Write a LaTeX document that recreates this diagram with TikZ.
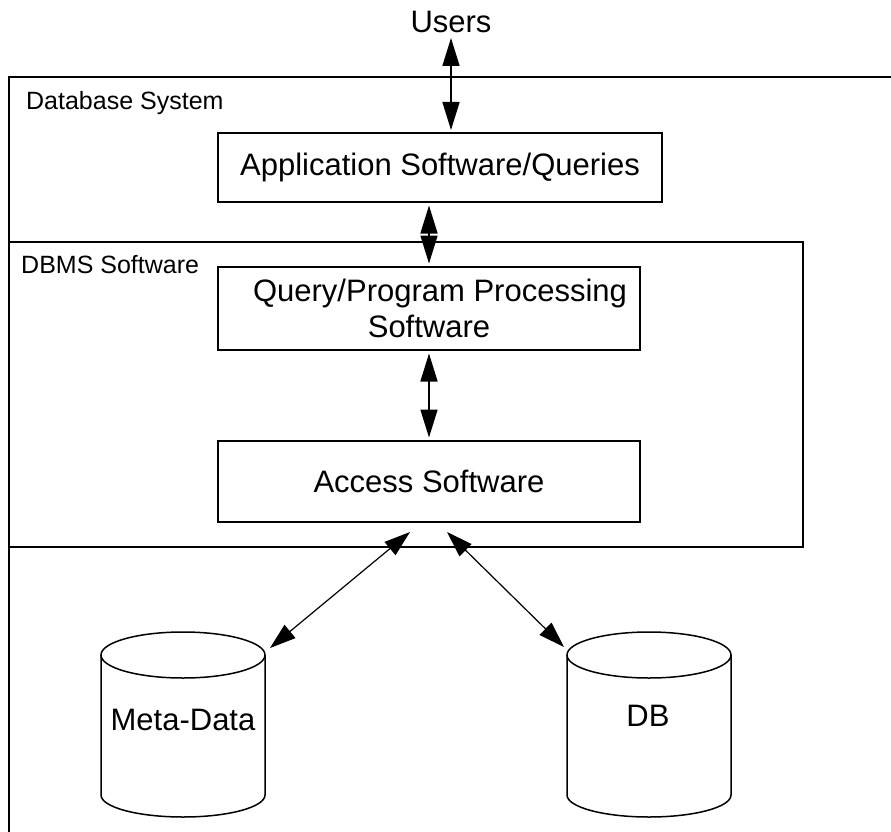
\documentclass[tikz,border=0pt]{standalone}
\usepackage{fontspec}
\setmainfont{Liberation Sans}
\usetikzlibrary{arrows.meta}

\begin{document}
\begin{tikzpicture}[x=1pt, y=-1pt,
  frame/.style={line width=2pt},
  box/.style={draw, line width=2pt, inner sep=0pt, align=center,
    font=\fontsize{31}{36}\selectfont},
  bigtext/.style={inner sep=0pt, font=\fontsize{31}{36}\selectfont},
  smalltext/.style={inner sep=0pt, anchor=west, font=\fontsize{25}{30}\selectfont},
  cyl/.style={line width=1.5pt},
  biarrow/.style={{Triangle[length=28pt,width=17pt]}-{Triangle[length=28pt,width=17pt]}, line width=1.6pt},
  diagarrow/.style={{Triangle[length=26pt,width=17pt]}-{Triangle[length=26pt,width=17pt]}, line width=1.2pt}]

\useasboundingbox (0,0) rectangle (891,832);

% outer "Database System" frame (open at right and bottom)
\draw[frame] (9,832) -- (9,77) -- (891,77);
\node[smalltext] (dbslabel) at (26,103) {Database System};

% DBMS software container
\node[draw, frame, inner sep=0pt, minimum width=794pt, minimum height=305pt] (dbms) at (406,394.5) {};
\node[smalltext] (dbmslabel) at (21,265) {DBMS Software};

% users and software layers
\node[bigtext] (users) at (451,22) {Users};
\node[box, minimum width=444pt, minimum height=69pt] (app) at (440,167.5) {Application Software/Queries};
\node[box, minimum width=422pt, minimum height=83pt] (query) at (429,308.5) {\hspace*{22pt}Query/Program Processing\\Software};
\node[box, minimum width=422pt, minimum height=81pt] (access) at (429,481.5) {Access Software};

% storage cylinders
\draw[cyl] (101,655) -- (101,795) arc[start angle=180, end angle=0, x radius=82, y radius=22] -- (265,655);
\draw[cyl] (183,655) ellipse [x radius=82, y radius=23];
\draw[cyl] (567,655) -- (567,795) arc[start angle=180, end angle=0, x radius=82, y radius=22] -- (731,655);
\draw[cyl] (649,655) ellipse [x radius=82, y radius=23];
\node[bigtext] (meta) at (183,720) {Meta-Data};
\node[bigtext] (db) at (648,716) {DB};

% arrow end points
\coordinate (ucol) at (451,38);
\coordinate (mcol) at (429,0);
\coordinate (accL) at (410,532);
\coordinate (accR) at (447,532);
\coordinate (metaend) at (270,648);
\coordinate (dbend) at (564,647);

% connectors
\draw[biarrow] (ucol) -- ([yshift=2pt]app.north -| ucol);
\draw[biarrow, shorten <=2.5pt, shorten >=2.5pt] (app.south -| mcol) -- (query.north -| mcol);
\draw[biarrow, shorten <=2.5pt, shorten >=2.5pt] (query.south -| mcol) -- (access.north -| mcol);
\draw[diagarrow] (accL) -- (metaend);
\draw[diagarrow] (accR) -- (dbend);
\end{tikzpicture}
\end{document}
